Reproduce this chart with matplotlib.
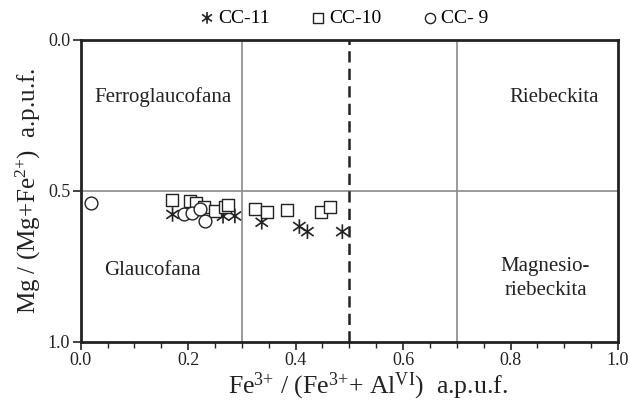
import matplotlib
matplotlib.use("Agg")
import matplotlib.pyplot as plt
from matplotlib.path import Path
from matplotlib.ticker import MultipleLocator, FixedLocator

plt.rcParams['font.family'] = ['Liberation Serif', 'DejaVu Serif']
plt.rcParams['mathtext.fontset'] = 'custom'
plt.rcParams['mathtext.rm'] = 'Liberation Serif'
plt.rcParams['mathtext.it'] = 'Liberation Serif:italic'
plt.rcParams['mathtext.bf'] = 'Liberation Serif:bold'

# Data
cc11_x = [0.171, 0.265, 0.287, 0.337, 0.407, 0.422, 0.487]
cc11_y = [0.578, 0.584, 0.583, 0.604, 0.618, 0.635, 0.635]

cc10_x = [0.170, 0.204, 0.214, 0.230, 0.250, 0.269, 0.274, 0.324, 0.347, 0.384, 0.448, 0.464]
cc10_y = [0.530, 0.534, 0.541, 0.552, 0.566, 0.553, 0.546, 0.560, 0.571, 0.563, 0.571, 0.555]

cc9_x = [0.020, 0.193, 0.207, 0.222, 0.231]
cc9_y = [0.541, 0.578, 0.574, 0.560, 0.600]

series_labels = ['CC-11', 'CC-10', 'CC- 9']
x_ticks = [0.0, 0.2, 0.4, 0.6, 0.8, 1.0]
y_ticks = [0.0, 0.5, 1.0]

star = Path([(0, -1), (0, 1), (-0.85, -0.6), (0.85, 0.6), (-0.85, 0.6), (0.85, -0.6)],
            [Path.MOVETO, Path.LINETO, Path.MOVETO, Path.LINETO, Path.MOVETO, Path.LINETO])

fig = plt.figure(figsize=(6.3, 4.07), dpi=100)
ax = fig.add_axes([0.128, 0.160, 0.853, 0.742])

ax.set_xlim(0, 1)
ax.set_ylim(1, 0)

# field boundaries
for xv in (0.3, 0.7):
    ax.axvline(xv, color='#8a8a8a', lw=1.2, zorder=1)
ax.axhline(0.5, color='#8a8a8a', lw=1.2, zorder=1)
ax.axvline(0.5, color='#222222', lw=1.8, ls=(0, (4.5, 2.5)), zorder=1)

ax.scatter(cc11_x, cc11_y, marker=star, s=110, facecolors='none', edgecolors='#222222',
           linewidths=1.2, label=series_labels[0], zorder=3)
ax.scatter(cc10_x, cc10_y, marker='s', s=75, facecolors='white', edgecolors='#222222',
           linewidths=1.0, label=series_labels[1], zorder=3)
ax.scatter(cc9_x, cc9_y, marker='o', s=85, facecolors='white', edgecolors='#222222',
           linewidths=1.0, label=series_labels[2], zorder=3)

# region labels
tkw = dict(fontsize=15, color='#222222', ha='center', va='center')
ax.text(0.153, 0.19, 'Ferroglaucofana', **tkw)
ax.text(0.882, 0.19, 'Riebeckita', **tkw)
ax.text(0.133, 0.765, 'Glaucofana', **tkw)
ax.text(0.865, 0.79, 'Magnesio-\nriebeckita', linespacing=1.3, **tkw)

for sp in ax.spines.values():
    sp.set_linewidth(2.0)
    sp.set_color('#222222')

ax.xaxis.set_major_locator(FixedLocator(x_ticks))
ax.xaxis.set_minor_locator(MultipleLocator(0.05))
ax.yaxis.set_major_locator(FixedLocator(y_ticks))
ax.set_xticklabels(['%.1f' % v for v in x_ticks])
ax.set_yticklabels(['%.1f' % v for v in y_ticks])
ax.tick_params(axis='both', which='major', direction='out', length=6, width=1.2,
               labelsize=13, colors='#222222', pad=1.5)
ax.tick_params(axis='x', which='minor', direction='out', length=4, width=1.0, colors='#222222')

ax.set_xlabel(r'Fe$^{3{+}}$ / (Fe$^{3{+}}$+ Al$^{\mathrm{VI}}$)  a.p.u.f.',
              fontsize=18.5, color='#222222')
ax.xaxis.set_label_coords(0.535, -0.095)
ax.set_ylabel(r'Mg / (Mg+Fe$^{2{+}}$)  a.p.u.f.',
              fontsize=18, color='#222222')
ax.yaxis.set_label_coords(-0.07, 0.5)

fig.legend(loc='upper center', bbox_to_anchor=(0.545, 1.02), ncol=3, frameon=False,
           fontsize=14, handletextpad=0.15, columnspacing=2.0, markerscale=0.8,
           handlelength=0.9)

fig.savefig('out.png', dpi=100)
